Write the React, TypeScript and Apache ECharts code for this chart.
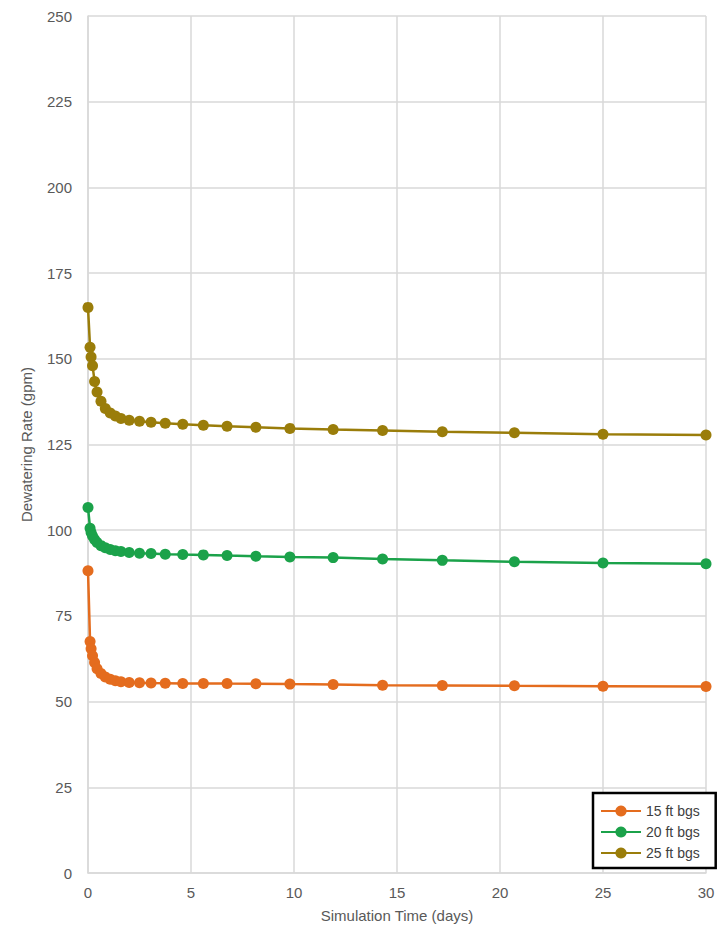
import React, { useEffect, useRef } from "react";
import * as echarts from "echarts";

const times = [0, 0.1, 0.15, 0.22, 0.32, 0.44, 0.63, 0.84, 1.08, 1.33, 1.6, 2.0, 2.5, 3.06, 3.75, 4.6, 5.6, 6.75, 8.15, 9.8, 11.9, 14.3, 17.2, 20.7, 25.0, 30.0];
const rate15 = [88.2, 67.5, 65.4, 63.4, 61.4, 59.6, 58.2, 57.2, 56.5, 56.1, 55.8, 55.6, 55.5, 55.4, 55.35, 55.3, 55.3, 55.25, 55.2, 55.1, 55.0, 54.8, 54.7, 54.6, 54.5, 54.4];
const rate20 = [106.6, 100.6, 99.3, 98.3, 97.3, 96.4, 95.5, 94.9, 94.4, 94.0, 93.8, 93.5, 93.3, 93.2, 93.0, 92.9, 92.8, 92.6, 92.4, 92.2, 92.0, 91.6, 91.2, 90.8, 90.4, 90.2];
const rate25 = [165.0, 153.4, 150.5, 148.0, 143.4, 140.3, 137.6, 135.5, 134.2, 133.3, 132.6, 132.1, 131.8, 131.5, 131.2, 130.9, 130.6, 130.3, 130.0, 129.7, 129.4, 129.1, 128.7, 128.4, 128.0, 127.8];
const seriesNames = ["15 ft bgs", "20 ft bgs", "25 ft bgs"];
const seriesColors = ["#E46C1E", "#1BA24A", "#9A7D0A"];
const xTitle = "Simulation Time (days)";
const yTitle = "Dewatering Rate (gpm)";

const FONT = 'Arial, "Liberation Sans", sans-serif';

export default function App() {
  const ref = useRef<HTMLDivElement>(null);
  useEffect(() => {
    if (!ref.current) return;
    const chart = echarts.init(ref.current, null, { renderer: "svg" });
    const datasets = [rate15, rate20, rate25];
    chart.setOption({
      animation: false,
      backgroundColor: "#ffffff",
      textStyle: { fontFamily: FONT },
      grid: { left: 88, right: 19, top: 16, bottom: 62 },
      xAxis: {
        type: "value",
        min: 0,
        max: 30,
        interval: 5,
        name: xTitle,
        nameLocation: "middle",
        nameGap: 35,
        nameTextStyle: { fontSize: 15, color: "#595959", fontFamily: FONT },
        axisLine: { show: true, lineStyle: { color: "#d9d9d9", width: 1.5 } },
        axisTick: { show: false },
        axisLabel: { fontSize: 15, color: "#595959", margin: 12, fontFamily: FONT },
        splitLine: { show: true, lineStyle: { color: "#d9d9d9", width: 1.5 } },
      },
      yAxis: {
        type: "value",
        min: 0,
        max: 250,
        interval: 25,
        name: yTitle,
        nameLocation: "middle",
        nameGap: 54,
        nameTextStyle: { fontSize: 15, color: "#595959", fontFamily: FONT },
        axisLine: { show: true, lineStyle: { color: "#d9d9d9", width: 1.5 } },
        axisTick: { show: false },
        axisLabel: { fontSize: 15, color: "#595959", margin: 16, fontFamily: FONT },
        splitLine: { show: true, lineStyle: { color: "#d9d9d9", width: 1.5 } },
      },
      legend: {
        show: true,
        orient: "vertical",
        left: 593,
        top: 793,
        padding: [11, 16, 8, 7],
        itemGap: 7,
        itemWidth: 40,
        itemHeight: 14,
        borderColor: "#000000",
        borderWidth: 2.5,
        borderRadius: 0,
        backgroundColor: "#ffffff",
        textStyle: { fontSize: 14, color: "#404040", fontFamily: FONT },
        data: seriesNames,
        z: 10,
      },
      series: datasets.map((vals, i) => ({
        name: seriesNames[i],
        type: "line",
        data: times.map((t, j) => [t, vals[j]]),
        symbol: "circle",
        symbolSize: 11,
        showSymbol: true,
        color: seriesColors[i],
        lineStyle: { color: seriesColors[i], width: 2.5 },
        itemStyle: { color: seriesColors[i] },
        z: 2 + i,
      })),
    });
    return () => chart.dispose();
  }, []);
  return (
    <div
      ref={ref}
      style={{ position: "fixed", left: 0, top: 0, width: 725, height: 935 }}
    />
  );
}
